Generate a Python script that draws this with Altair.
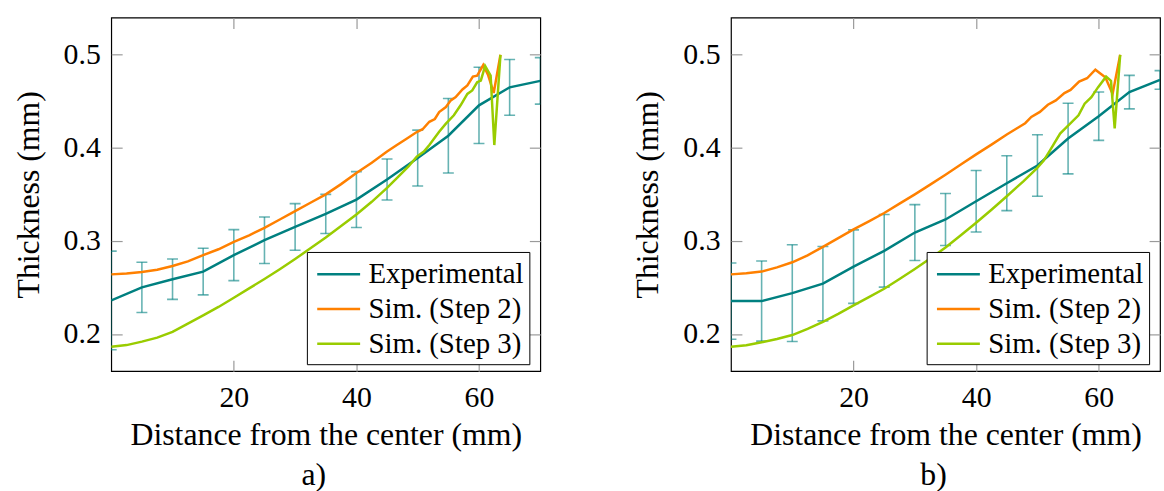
import altair as alt
import pandas as pd

FONT = "Liberation Serif"
TEAL = "#008080"
ORANGE = "#ff8000"
GREEN = "#99cc00"
GRAY = "#9a9a9a"

series_names = ["Experimental", "Sim. (Step 2)", "Sim. (Step 3)"]
x_ticks = [20, 40, 60]
y_ticks = [0.2, 0.3, 0.4, 0.5]

# Experimental measurements (same x for both panels)
exp_x = [0, 5, 10, 15, 20, 25, 30, 35, 40, 45, 50, 55, 60, 65, 70]

# Panel a)
expA_y = [0.236, 0.250, 0.2588, 0.267, 0.2847, 0.3007, 0.315, 0.329, 0.3444, 0.366, 0.389, 0.413, 0.4457, 0.465, 0.472]
expA_err = [0.053, 0.027, 0.0217, 0.025, 0.0274, 0.025, 0.025, 0.021, 0.030, 0.022, 0.030, 0.040, 0.041, 0.030, 0.025]

s2a_x = [0, 2.5, 5, 7.5, 10, 12.5, 15, 17.5, 20, 22.5, 25, 27.5, 30, 32.5, 35, 37.5, 40, 42.5, 45, 46.6, 48, 49.85,
         50.8, 51.9, 52.8, 53.5, 54.6, 55.4, 56.2, 57.3, 58.1, 59.0, 59.7, 60.7, 61.5, 62.4, 63.5]
s2a_y = [0.264, 0.265, 0.2666, 0.269, 0.273, 0.278, 0.2847, 0.291, 0.299, 0.306, 0.314, 0.323, 0.332, 0.341, 0.350,
         0.361, 0.373, 0.384, 0.396, 0.403, 0.409, 0.417, 0.420, 0.428, 0.431, 0.4385, 0.4438, 0.451, 0.4545, 0.4627,
         0.467, 0.4766, 0.4776, 0.489, 0.478, 0.459, 0.500]

s3a_x = [0, 2.5, 5, 7.5, 10, 12.5, 15, 17.5, 20, 22.5, 25, 27.5, 30, 32.5, 35, 37.5, 40, 42.5, 45, 46.6, 48.5, 49.85,
         51, 51.9, 53.5, 54.6, 55.9, 57.0, 58.1, 58.9, 59.7, 60.3, 61.0, 61.9, 62.5, 63.5]
s3a_y = [0.1863, 0.188, 0.1917, 0.196, 0.2023, 0.211, 0.220, 0.229, 0.2389, 0.249, 0.259, 0.2695, 0.2805, 0.292,
         0.3036, 0.316, 0.3284, 0.342, 0.357, 0.3675, 0.380, 0.3906, 0.396, 0.4031, 0.4172, 0.426, 0.435, 0.4457,
         0.458, 0.4617, 0.4705, 0.4723, 0.488, 0.4776, 0.403, 0.500]

# Panel b)
expB_y = [0.2353, 0.2353, 0.2439, 0.254, 0.2723, 0.2893, 0.309, 0.323, 0.3426, 0.362, 0.381, 0.410, 0.434, 0.4599, 0.473]
expB_err = [0.041, 0.043, 0.052, 0.040, 0.0395, 0.039, 0.030, 0.028, 0.033, 0.0295, 0.033, 0.038, 0.026, 0.018, 0.010]

s2b_x = [0, 2.5, 5, 7.5, 10, 12.5, 15, 17.5, 20, 22.5, 25, 27.5, 30, 32.5, 35, 37.5, 40, 42.5, 45, 46.6, 48, 49.0,
         50.4, 51.7, 53.0, 54.4, 55.4, 56.8, 58.1, 59.45, 61.07, 62.26, 63.5]
s2b_y = [0.264, 0.2652, 0.267, 0.2715, 0.277, 0.2845, 0.2936, 0.303, 0.3124, 0.321, 0.330, 0.340, 0.350, 0.3605,
         0.371, 0.382, 0.393, 0.4035, 0.4144, 0.4208, 0.4265, 0.4332, 0.4386, 0.4463, 0.451, 0.4588, 0.4623, 0.4712,
         0.4748, 0.484, 0.4758, 0.458, 0.500]

s3b_x = [0, 2.5, 5, 7.5, 10, 12.5, 15, 17.5, 20, 22.5, 25, 27.5, 30, 32.5, 35, 37.5, 40, 42.5, 45, 47.7, 49.9, 51.0,
         52.1, 53.7, 54.8, 56.7, 57.7, 58.8, 59.9, 61.2, 62.0, 62.6, 63.5]
s3b_y = [0.1863, 0.1878, 0.191, 0.1945, 0.1988, 0.2055, 0.213, 0.2215, 0.2307, 0.2395, 0.2485, 0.259, 0.2698, 0.281,
         0.293, 0.306, 0.3195, 0.3335, 0.348, 0.364, 0.378, 0.386, 0.3978, 0.4154, 0.4226, 0.435, 0.4474, 0.4545,
         0.4652, 0.4765, 0.472, 0.4208, 0.500]

PW, PH = 432, 356


def panel(exp_y, exp_err, s2x, s2y, s3x, s3y, label):
    exp = pd.DataFrame({
        "x": exp_x,
        "y": exp_y,
        "lo": [y - e for y, e in zip(exp_y, exp_err)],
        "hi": [y + e for y, e in zip(exp_y, exp_err)],
    })
    lines = pd.concat([
        pd.DataFrame({"x": exp_x, "y": exp_y, "series": series_names[0]}),
        pd.DataFrame({"x": s2x, "y": s2y, "series": series_names[1]}),
        pd.DataFrame({"x": s3x, "y": s3y, "series": series_names[2]}),
    ], ignore_index=True)

    xs = alt.Scale(domain=[0, 70], nice=False, zero=False)
    ys = alt.Scale(domain=[0.16, 0.54], nice=False, zero=False)

    rules = alt.Chart(exp).mark_rule(color=TEAL, opacity=0.6, strokeWidth=1.6, clip=True).encode(
        x=alt.X("x:Q", scale=xs, axis=None),
        y=alt.Y("lo:Q", scale=ys, axis=None),
        y2="hi:Q",
    )
    cap_lo = alt.Chart(exp).mark_tick(orient="horizontal", size=11, thickness=1.6, color=TEAL,
                                      opacity=0.6, clip=True).encode(
        x=alt.X("x:Q", scale=xs, axis=None),
        y=alt.Y("lo:Q", scale=ys, axis=None),
    )
    cap_hi = alt.Chart(exp).mark_tick(orient="horizontal", size=11, thickness=1.6, color=TEAL,
                                      opacity=0.6, clip=True).encode(
        x=alt.X("x:Q", scale=xs, axis=None),
        y=alt.Y("hi:Q", scale=ys, axis=None),
    )
    line = alt.Chart(lines).mark_line(strokeWidth=2.5, clip=True).encode(
        x=alt.X("x:Q", scale=xs, axis=alt.Axis(
            orient="bottom", values=x_ticks, offset=-11, tickSize=11, domain=False, grid=False,
            labelPadding=12, labelFontSize=30, title="Distance from the center (mm)",
            titleFontSize=32, titlePadding=7)),
        y=alt.Y("y:Q", scale=ys, axis=alt.Axis(
            orient="left", values=y_ticks, format=".1f", offset=-11, tickSize=11, domain=False,
            grid=False, labelPadding=11, labelFontSize=30, title="Thickness (mm)",
            titleFontSize=32, titlePadding=18)),
        color=alt.Color("series:N", scale=alt.Scale(domain=series_names, range=[TEAL, ORANGE, GREEN]),
                        legend=alt.Legend(
                            title=None, orient="none", legendX=197, legendY=236,
                            symbolType="M-1.35,0H1.35", symbolSize=1024, symbolStrokeWidth=2.5,
                            labelFont=FONT, labelFontSize=29, labelColor="black", labelLimit=400,
                            padding=5, symbolOffset=9.5, labelOffset=12.5, rowPadding=2,
                            strokeColor="black", fillColor="white", cornerRadius=0)),
    )
    frame_axes = alt.Chart(exp).mark_point(opacity=0).encode(
        x=alt.X("x:Q", scale=xs, axis=alt.Axis(
            orient="top", values=x_ticks, labels=False, domain=False, tickSize=11, offset=-11,
            title=None, grid=False)),
        y=alt.Y("y:Q", scale=ys, axis=alt.Axis(
            orient="right", values=y_ticks, labels=False, domain=False, tickSize=11, offset=-11,
            title=None, grid=False)),
    )
    return alt.layer(rules, cap_lo, cap_hi, line, frame_axes).properties(
        width=PW, height=PH,
        title=alt.TitleParams(label, orient="bottom", fontSize=32, offset=10, dx=-12, frame="group"),
    )


left = panel(expA_y, expA_err, s2a_x, s2a_y, s3a_x, s3a_y, "a)")
right = panel(expB_y, expB_err, s2b_x, s2b_y, s3b_x, s3b_y, "b)")

chart = alt.hconcat(left, right, spacing=87).resolve_scale(color="independent").resolve_legend(
    color="independent"
).properties(
    padding={"left": 11, "top": 14, "right": 0, "bottom": 0},
    background="white",
).configure_view(
    stroke="black", strokeWidth=1.2
).configure_axis(
    labelFont=FONT, titleFont=FONT, labelColor="black", titleColor="black",
    titleFontWeight="normal", tickColor=GRAY, tickWidth=1.2,
).configure_title(
    font=FONT, fontWeight="normal", color="black"
)

chart.save("out.html", embed_options={"renderer": "svg", "actions": False})
